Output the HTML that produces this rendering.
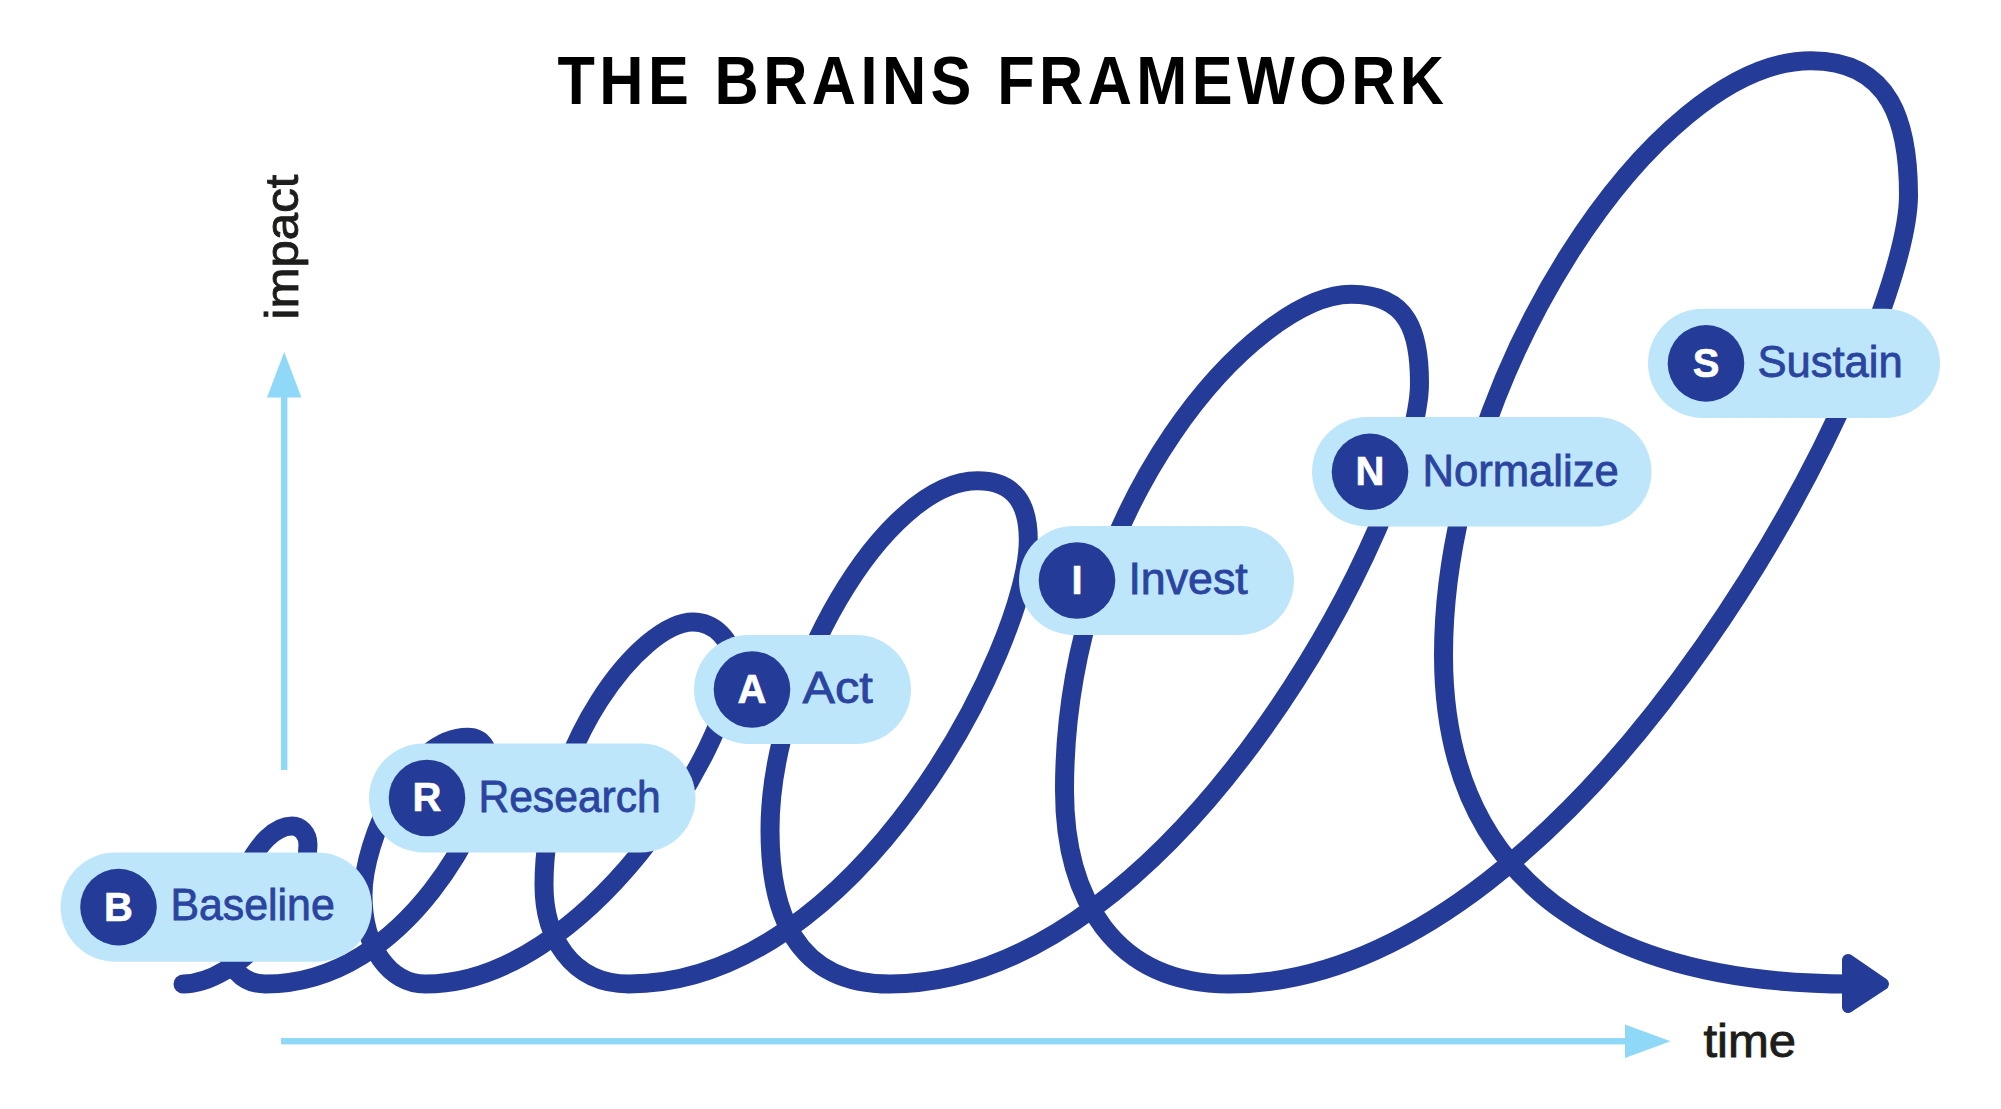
<!DOCTYPE html><html><head><meta charset="utf-8"><title>The BRAINS Framework</title>
<style>html,body{margin:0;padding:0;background:#fff;}body{width:2001px;height:1109px;overflow:hidden;font-family:"Liberation Sans",sans-serif;}svg{display:block;}text{font-family:"Liberation Sans",sans-serif;}</style></head><body>
<svg width="2001" height="1109" viewBox="0 0 2001 1109">
<rect width="2001" height="1109" fill="#fff"/>
<text transform="translate(557.5,104) scale(0.9,1)" font-size="68" font-weight="700" fill="#000" textLength="985" lengthAdjust="spacing">THE BRAINS FRAMEWORK</text>
<rect x="281" y="395" width="6.4" height="375" fill="#8fd8f8"/>
<polygon points="284.2,352 267,397.5 301.4,397.5" fill="#8fd8f8"/>
<rect x="281" y="1038" width="1346" height="6.4" fill="#8fd8f8"/>
<polygon points="1670.6,1041.2 1625,1024.4 1625,1058" fill="#8fd8f8"/>
<text x="1703.5" y="1057" font-size="47" fill="#1d1d1b" stroke="#1d1d1b" stroke-width="0.9" textLength="92.6" lengthAdjust="spacingAndGlyphs">time</text>
<text transform="translate(297.5,319.5) rotate(-90)" font-size="47" fill="#1d1d1b" stroke="#1d1d1b" stroke-width="0.9" textLength="145" lengthAdjust="spacingAndGlyphs">impact</text>
<path d="M183.0 984.0 C237.0 984.0 308.0 903.0 308.0 845.0 C308.0 833.0 300.0 826.0 292.0 826.0 C257.0 826.0 226.5 901.0 226.5 941.0 C226.5 966.0 241.5 984.0 265.5 984.0 C410.5 984.0 490.0 805.0 490.0 772.0 C490.0 750.0 483.5 737.2 467.5 737.2 C409.5 737.2 363.0 840.0 363.0 895.0 C363.0 947.0 389.5 984.0 425.5 984.0 C585.0 984.0 733.0 743.7 733.0 665.0 C733.0 639.0 713.0 622.0 693.0 622.0 C641.5 622.0 544.0 745.0 544.0 885.0 C544.0 935.4 570.2 984.0 629.0 984.0 C857.4 984.0 1028.3 644.7 1028.3 540.0 C1028.3 505.0 1015.5 480.8 977.5 480.8 C883.9 480.8 770.0 680.0 770.0 830.0 C770.0 910.8 794.0 984.0 890.0 984.0 C1178.0 984.0 1419.5 506.1 1419.5 383.0 C1419.5 333.0 1409.0 294.3 1351.0 294.3 C1257.0 294.3 1064.5 501.7 1064.5 790.0 C1064.5 897.0 1113.4 984.0 1229.0 984.0 C1589.0 984.0 1908.5 345.4 1908.5 195.0 C1908.5 124.0 1891.5 60.7 1811.0 60.7 C1653.9 60.7 1443.5 381.6 1443.5 655.0 C1443.5 904.9 1636.2 984.0 1850.0 984.0" fill="none" stroke="#243b98" stroke-width="19" stroke-linecap="round" stroke-linejoin="round"/>
<path d="M1848 960 L1883 984 L1848 1007 Z" fill="#243b98" stroke="#243b98" stroke-width="12" stroke-linejoin="round"/>
<rect x="60.5" y="852.5" width="311.5" height="109.2" rx="54.6" fill="#bee6fb"/>
<circle cx="118.5" cy="907.1" r="38.3" fill="#243b98"/>
<text x="118.5" y="920.5" font-size="40" font-weight="700" fill="#fff" stroke="#fff" stroke-width="0.6" text-anchor="middle">B</text>
<text x="170.4" y="920.1" font-size="43.5" fill="#2a44a0" stroke="#2a44a0" stroke-width="0.8" textLength="164.4" lengthAdjust="spacingAndGlyphs">Baseline</text>
<rect x="369.0" y="743.5" width="326.5" height="109.0" rx="54.5" fill="#bee6fb"/>
<circle cx="427.0" cy="798.0" r="38.3" fill="#243b98"/>
<text x="427.0" y="811.4" font-size="40" font-weight="700" fill="#fff" stroke="#fff" stroke-width="0.6" text-anchor="middle">R</text>
<text x="478.4" y="811.7" font-size="43.5" fill="#2a44a0" stroke="#2a44a0" stroke-width="0.8" textLength="182.4" lengthAdjust="spacingAndGlyphs">Research</text>
<rect x="694.0" y="635.0" width="217.0" height="109.0" rx="54.5" fill="#bee6fb"/>
<circle cx="752.0" cy="689.5" r="38.3" fill="#243b98"/>
<text x="752.0" y="702.9" font-size="40" font-weight="700" fill="#fff" stroke="#fff" stroke-width="0.6" text-anchor="middle">A</text>
<text x="802.4" y="703.2" font-size="43.5" fill="#2a44a0" stroke="#2a44a0" stroke-width="0.8" textLength="70.4" lengthAdjust="spacingAndGlyphs">Act</text>
<rect x="1019.0" y="526.0" width="275.0" height="109.0" rx="54.5" fill="#bee6fb"/>
<circle cx="1077.0" cy="580.5" r="38.3" fill="#243b98"/>
<text x="1077.0" y="593.9" font-size="40" font-weight="700" fill="#fff" stroke="#fff" stroke-width="0.6" text-anchor="middle">I</text>
<text x="1128.4" y="594.2" font-size="43.5" fill="#2a44a0" stroke="#2a44a0" stroke-width="0.8" textLength="119.4" lengthAdjust="spacingAndGlyphs">Invest</text>
<rect x="1312.0" y="417.0" width="339.5" height="109.5" rx="54.8" fill="#bee6fb"/>
<circle cx="1370.0" cy="471.8" r="38.3" fill="#243b98"/>
<text x="1370.0" y="485.1" font-size="40" font-weight="700" fill="#fff" stroke="#fff" stroke-width="0.6" text-anchor="middle">N</text>
<text x="1422.4" y="486.2" font-size="43.5" fill="#2a44a0" stroke="#2a44a0" stroke-width="0.8" textLength="196.4" lengthAdjust="spacingAndGlyphs">Normalize</text>
<rect x="1648.0" y="308.7" width="292.0" height="109.3" rx="54.7" fill="#bee6fb"/>
<circle cx="1706.0" cy="363.4" r="38.3" fill="#243b98"/>
<text x="1706.0" y="376.8" font-size="40" font-weight="700" fill="#fff" stroke="#fff" stroke-width="0.6" text-anchor="middle">S</text>
<text x="1757.4" y="377.1" font-size="43.5" fill="#2a44a0" stroke="#2a44a0" stroke-width="0.8" textLength="145.4" lengthAdjust="spacingAndGlyphs">Sustain</text>
</svg></body></html>
